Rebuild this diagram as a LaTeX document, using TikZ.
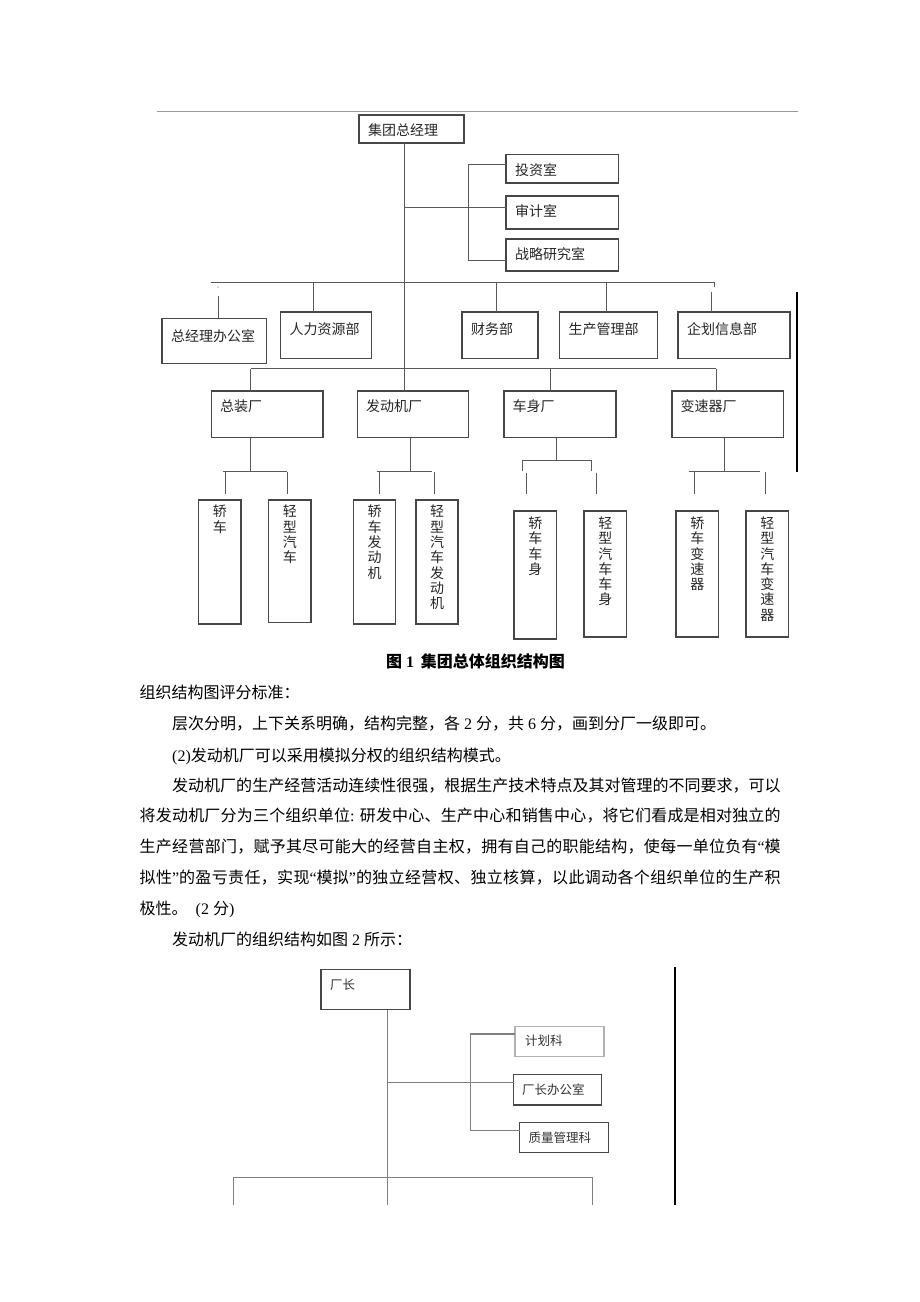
\documentclass[tikz,border=0pt]{standalone}
\usepackage{fontspec}
\setmainfont{Liberation Serif}
\newfontfamily\cjk{Noto Sans CJK SC}
\newcommand\en[1]{{\rmfamily #1}}
% 汉字之间加可伸缩间距, 正文两端对齐用
\XeTeXinterchartokenstate=1
\newcount\hzcode
\hzcode="3000
\loop \XeTeXcharclass\hzcode=1 \advance\hzcode by 1 \ifnum\hzcode<"A000 \repeat
\hzcode="FF00
\loop \XeTeXcharclass\hzcode=1 \advance\hzcode by 1 \ifnum\hzcode<"FFF0 \repeat
\XeTeXinterchartoks 1 1 = {\hskip 0pt plus 1fil\relax}

\definecolor{xianhui}{gray}{0.35}
\definecolor{kuanghui}{gray}{0.28}
\definecolor{xianhui2}{gray}{0.5}
\definecolor{qianhui}{gray}{0.7}

\tikzset{
  kuang/.style={draw=kuanghui, line width=1.1pt, anchor=north west, inner sep=0pt, outer sep=0pt},
  kuang2/.style={kuang, line width=1.4pt},
  zi/.style={anchor=north west, inner sep=0pt, text=black!85, font=\cjk\fontsize{14}{14}\selectfont},
  xiaozi/.style={zi, text=black!80, font=\cjk\fontsize{12.5}{12.5}\selectfont},
  shuzi/.style={anchor=north, inner sep=0pt, align=center, text=black!85, font=\cjk\fontsize{14}{15.3}\selectfont},
  lian/.style={draw=xianhui, line width=1pt},
  lian2/.style={draw=xianhui2, line width=1.4pt},
  shuxian/.style={draw=black, line width=2pt},
  zhengwen/.style={anchor=base west, inner sep=0pt, font=\cjk\fontsize{16}{16}\selectfont},
}

\begin{document}
\begin{tikzpicture}[x=1pt, y=-1pt]

    % 页面大小
    \fill[white] (0,0) rectangle (920,1302);
    \useasboundingbox (0,0) rectangle (920,1302);

    % 页眉横线
    \draw[gray!80, line width=0.8pt] (157,111) -- (798,111);

    % 图1 的方框
    \node[kuang, minimum width=105pt, minimum height=28pt, label={[zi,xshift=9pt,yshift=-8.5pt]north west:集团总经理}] (zjl) at (359,115) {};
    \node[kuang, minimum width=112.5pt, minimum height=28.5pt, label={[zi,xshift=9pt,yshift=-8.5pt]north west:投资室}] (tz) at (506,154.5) {};
    \node[kuang, minimum width=112.5pt, minimum height=33pt, label={[zi,xshift=9pt,yshift=-8.5pt]north west:审计室}] (sj) at (506,196) {};
    \node[kuang, minimum width=112.5pt, minimum height=32pt, label={[zi,xshift=9pt,yshift=-8.5pt]north west:战略研究室}] (zl) at (506,239) {};

    % 部门
    \node[kuang, minimum width=104.5pt, minimum height=45pt, label={[zi,xshift=9pt,yshift=-10.5pt]north west:总经理办公室}] (bgs) at (162,318.5) {};
    \node[kuang, minimum width=91pt, minimum height=46.5pt, label={[zi,xshift=9pt,yshift=-10.5pt]north west:人力资源部}] (rl) at (280.5,312) {};
    \node[kuang, minimum width=76pt, minimum height=46.5pt, label={[zi,xshift=9pt,yshift=-10.5pt]north west:财务部}] (cw) at (462,312) {};
    \node[kuang, minimum width=98pt, minimum height=46.5pt, label={[zi,xshift=9pt,yshift=-10.5pt]north west:生产管理部}] (sc) at (559.5,312) {};
    \node[kuang, minimum width=112pt, minimum height=46.5pt, label={[zi,xshift=9pt,yshift=-10.5pt]north west:企划信息部}] (qh) at (678,312) {};

    % 分厂
    \node[kuang, minimum width=111.5pt, minimum height=46.5pt, label={[zi,xshift=8.5pt,yshift=-8.5pt]north west:总装厂}] (zz) at (211.5,391) {};
    \node[kuang, minimum width=111pt, minimum height=46.5pt, label={[zi,xshift=8.5pt,yshift=-8.5pt]north west:发动机厂}] (fdj) at (357.5,391) {};
    \node[kuang, minimum width=112pt, minimum height=46.5pt, label={[zi,xshift=8.5pt,yshift=-8.5pt]north west:车身厂}] (cs) at (504,391) {};
    \node[kuang, minimum width=111.5pt, minimum height=46.5pt, label={[zi,xshift=8.5pt,yshift=-8.5pt]north west:变速器厂}] (bsq) at (672,391) {};

    % 竖排的产品方框
    \node[kuang, minimum width=42.5pt, minimum height=124pt, label={[shuzi,yshift=-5pt]north:轿\\车}] (a1) at (198.5,500) {};
    \node[kuang, minimum width=42.5pt, minimum height=122.5pt, label={[shuzi,yshift=-5pt]north:轻\\型\\汽\\车}] (a2) at (268.5,500) {};
    \node[kuang, minimum width=42pt, minimum height=124pt, label={[shuzi,yshift=-5pt]north:轿\\车\\发\\动\\机}] (b1) at (353.5,500) {};
    \node[kuang, minimum width=42pt, minimum height=124pt, label={[shuzi,yshift=-5pt]north:轻\\型\\汽\\车\\发\\动\\机}] (b2) at (416,500) {};
    \node[kuang, minimum width=42.5pt, minimum height=128pt, label={[shuzi,yshift=-5.5pt]north:轿\\车\\车\\身}] (c1) at (514,511) {};
    \node[kuang, minimum width=42.5pt, minimum height=126pt, label={[shuzi,yshift=-5.5pt]north:轻\\型\\汽\\车\\车\\身}] (c2) at (584,511) {};
    \node[kuang, minimum width=42.5pt, minimum height=126pt, label={[shuzi,yshift=-5.5pt]north:轿\\车\\变\\速\\器}] (d1) at (676,511) {};
    \node[kuang, minimum width=42.5pt, minimum height=126pt, label={[shuzi,yshift=-5.5pt]north:轻\\型\\汽\\车\\变\\速\\器}] (d2) at (746,511) {};

    % 主干线
    \coordinate (gan) at (404.5,207.5);
    \draw[lian] (gan |- zjl.south) -- (gan |- fdj.north);

    % 职能室连线
    \draw[lian] (gan) -- (gan -| sj.west);
    \coordinate (kt) at (468.5,164.5);
    \coordinate (kb) at (468.5,260.5);
    \draw[lian] (kt -| tz.west) -- (kt) -- (kb) -- (kb -| zl.west);

    % 部门横线和竖线
    \coordinate (bl) at (210.5,282);
    \coordinate (br) at (714,282);
    \draw[lian] (bl) -- (br) -- ++(0,5);
    \coordinate (bm1) at (218,282);
    \fill[xianhui] ([yshift=-5pt]bm1) circle (0.7pt);
    \draw[lian] ([yshift=-14pt]bm1) -- (bm1 |- bgs.north);
    \foreach \x/\n in {313.5/rl, 496.5/cw, 606/sc} {
        \coordinate (t) at (\x,282);
        \draw[lian] (t) -- (t |- \n.north);
    }
    \coordinate (bm5) at (711,291.5);
    \draw[lian] (bm5) -- (bm5 |- qh.north);

    % 分厂横线
    \coordinate (fl) at (250.5,368.5);
    \coordinate (fm) at (550,368.5);
    \coordinate (fr) at (716,368.5);
    \draw[lian] (fl) -- (fr);
    \draw[lian] (fl) -- (fl |- zz.north);
    \draw[lian] (fm) -- (fm |- cs.north);
    \draw[lian] (fr) -- (fr |- bsq.north);

    % 总装厂下面
    \coordinate (g1) at (250.5,471);
    \draw[lian] (g1 |- zz.south) -- (g1);
    \draw[lian] (223,471) -- (286.5,471);
    \coordinate (g1a) at (225.5,472);
    \coordinate (g1b) at (287.5,472);
    \draw[lian, shorten >=6.5pt] (g1a) -- (g1a |- a1.north);
    \draw[lian, shorten >=6.5pt] (g1b) -- (g1b |- a2.north);

    % 发动机厂下面
    \coordinate (g2) at (410.5,471);
    \draw[lian] (g2 |- fdj.south) -- (g2);
    \draw[lian] (376.5,471) -- (431.5,471);
    \coordinate (g2a) at (379,472);
    \coordinate (g2b) at (434.5,472);
    \draw[lian, shorten >=6.5pt] (g2a) -- (g2a |- b1.north);
    \draw[lian, shorten >=6.5pt] (g2b) -- (g2b |- b2.north);

    % 车身厂下面
    \coordinate (g3) at (556.5,460);
    \draw[lian] (g3 |- cs.south) -- (g3);
    \draw[lian] (522,471) -- (522,460) -- (591.5,460) -- (591.5,471);
    \coordinate (g3a) at (526,472.5);
    \coordinate (g3b) at (596,472.5);
    \draw[lian, shorten >=17.5pt] (g3a) -- (g3a |- c1.north);
    \draw[lian, shorten >=17.5pt] (g3b) -- (g3b |- c2.north);

    % 变速器厂下面
    \coordinate (g4) at (724.5,471);
    \draw[lian] (g4 |- bsq.south) -- (g4);
    \draw[lian] (688.5,471) -- (760,471);
    \coordinate (g4a) at (694.5,472);
    \coordinate (g4b) at (765,472);
    \draw[lian, shorten >=17.5pt] (g4a) -- (g4a |- d1.north);
    \draw[lian, shorten >=17.5pt] (g4b) -- (g4b |- d2.north);

    % 右边竖线
    \draw[shuxian] (796.5,291.5) -- (796.5,471.5);

    % 图题
    \node[zhengwen, font=\cjk\bfseries\fontsize{16}{16}\selectfont] (tu1) at (386,667.7) {图\en{\bfseries\ 1\ \,}集团总体组织结构图};

    % 正文
    \node[zhengwen] (h1) at (139.5,698.7) {组织结构图评分标准：};
    \node[zhengwen] (h2) at (172,729.3) {层次分明，上下关系明确，结构完整，各\en{ 2 }分，共\en{ 6 }分，画到分厂一级即可。};
    \node[zhengwen] (h3) at (172,761) {\en{(2)}发动机厂可以采用模拟分权的组织结构模式。};
    \node[zhengwen] (h4) at (172,791.7) {\makebox[608.5pt][s]{发动机厂的生产经营活动连续性很强，根据生产技术特点及其对管理的不同要求，可以}};
    \node[zhengwen] (h5) at (139.5,821) {\makebox[641pt][s]{将发动机厂分为三个组织单位\en{: }研发中心、生产中心和销售中心，将它们看成是相对独立的}};
    \node[zhengwen] (h6) at (139.5,852.7) {\makebox[641pt][s]{生产经营部门，赋予其尽可能大的经营自主权，拥有自己的职能结构，使每一单位负有\en{“}模}};
    \node[zhengwen] (h7) at (139.5,883.3) {\makebox[641pt][s]{拟性\en{”}的盈亏责任，实现\en{“}模拟\en{”}的独立经营权、独立核算，以此调动各个组织单位的生产积}};
    \node[zhengwen] (h8) at (139.5,914.3) {极性。\en{\ \ (2 }分\en{)}};
    \node[zhengwen] (h9) at (172,945) {发动机厂的组织结构如图\en{ 2 }所示：};

    % 图2 的方框
    \node[kuang2, minimum width=89pt, minimum height=40pt, label={[xiaozi,xshift=9pt,yshift=-9pt]north west:厂长}] (cz) at (321,969.5) {};
    \node[kuang2, draw=qianhui, minimum width=89pt, minimum height=30pt, label={[xiaozi,xshift=10pt,yshift=-8.5pt]north west:计划科}] (jh) at (515,1026.5) {};
    \node[kuang2, minimum width=88pt, minimum height=30.5pt, label={[xiaozi,xshift=8.5pt,yshift=-9pt]north west:厂长办公室}] (cb) at (513.5,1074.5) {};
    \node[kuang2, minimum width=89pt, minimum height=30pt, label={[xiaozi,xshift=9pt,yshift=-9pt]north west:质量管理科}] (zg) at (519.5,1122.5) {};

    % 图2 的连线
    \coordinate (h) at (387.5,1082.5);
    \coordinate (hd) at (387.5,1205);
    \draw[lian2] (h |- cz.south) -- (hd);
    \draw[lian2] (h) -- (h -| cb.west);
    \coordinate (k2t) at (470.5,1034);
    \coordinate (k2b) at (470.5,1130.5);
    \draw[lian2] (k2t -| jh.west) -- (k2t) -- (k2b) -- (k2b -| zg.west);
    \coordinate (dl) at (233.5,1177.5);
    \coordinate (dr) at (592.5,1177.5);
    \draw[lian2] (dl |- hd) -- (dl) -- (dr) -- (dr |- hd);

    % 右边竖线
    \draw[shuxian] (675,966.5) -- (675,1205);

\end{tikzpicture}
\end{document}
